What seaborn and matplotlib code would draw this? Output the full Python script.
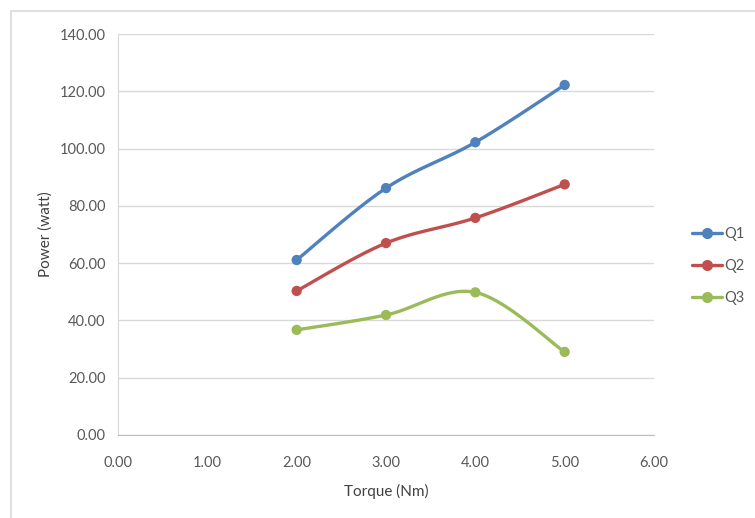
"""
Power vs torque for three flow rates (Excel-style smoothed line chart).
"""

import matplotlib.pyplot as plt
import numpy as np
import pandas as pd
import seaborn as sns
from matplotlib.lines import Line2D
from matplotlib.patches import Rectangle

TORQUE = [2.0, 3.0, 4.0, 5.0]
Q1 = [61.1, 86.2, 102.2, 122.2]
Q2 = [50.3, 67.0, 75.8, 87.5]
Q3 = [36.7, 41.9, 49.8, 29.0]
SERIES = {"Q1": Q1, "Q2": Q2, "Q3": Q3}
COLORS = {"Q1": "#4F81BD", "Q2": "#C0504D", "Q3": "#9BBB59"}

TEXT_COLOR = "#595959"
GRID_COLOR = "#D9D9D9"


def smooth_curve(x, y, steps=40):
    """Catmull-Rom path through the points, like Excel's smoothed line."""
    x = np.asarray(x, dtype=float)
    y = np.asarray(y, dtype=float)
    px = np.concatenate([[x[0]], x, [x[-1]]])
    py = np.concatenate([[y[0]], y, [y[-1]]])
    xs, ys = [], []
    t = np.linspace(0, 1, steps)
    for i in range(1, len(px) - 2):
        p0, p1, p2, p3 = (np.array([px[j], py[j]]) for j in range(i - 1, i + 3))
        c1 = p1 + (p2 - p0) / 6
        c2 = p2 - (p3 - p1) / 6
        b = (
            ((1 - t) ** 3)[:, None] * p1
            + (3 * (1 - t) ** 2 * t)[:, None] * c1
            + (3 * (1 - t) * t**2)[:, None] * c2
            + (t**3)[:, None] * p2
        )
        xs.extend(b[:, 0])
        ys.extend(b[:, 1])
    return np.array(xs), np.array(ys)


def main():
    sns.set_style("white")
    plt.rcParams["font.family"] = ["Lato", "DejaVu Sans"]

    fig = plt.figure(figsize=(7.55, 5.18), dpi=100)
    ax = fig.add_axes([118 / 755, 1 - 435 / 518, 536 / 755, 401 / 518])

    # chart area border (Excel frame, cut off at right and bottom)
    fig.patches.append(
        Rectangle(
            (11 / 755, -0.1), 1.2, 1 - 11 / 518 + 0.1,
            transform=fig.transFigure, fill=False,
            edgecolor=GRID_COLOR, linewidth=1.2,
        )
    )

    points = pd.DataFrame(
        [(x, v, name) for name, vals in SERIES.items() for x, v in zip(TORQUE, vals)],
        columns=["torque", "power", "series"],
    )
    curves = []
    for name, vals in SERIES.items():
        sx, sy = smooth_curve(TORQUE, vals)
        curves.append(pd.DataFrame({"torque": sx, "power": sy, "series": name}))
    curves = pd.concat(curves, ignore_index=True)

    sns.lineplot(
        data=curves, x="torque", y="power", hue="series", palette=COLORS,
        sort=False, estimator=None, linewidth=2.4, legend=False, ax=ax, zorder=3,
    )
    sns.scatterplot(
        data=points, x="torque", y="power", hue="series", palette=COLORS,
        s=55, linewidth=0, legend=False, ax=ax, zorder=4,
    )

    ax.set_xlim(0, 6)
    ax.set_ylim(0, 140)
    ax.set_xticks(np.arange(0, 7, 1))
    ax.set_yticks(np.arange(0, 141, 20))
    ax.set_xticklabels([f"{v:.2f}" for v in np.arange(0, 7, 1)])
    ax.set_yticklabels([f"{v:.2f}" for v in np.arange(0, 141, 20)])
    ax.tick_params(colors=TEXT_COLOR, labelsize=10.5, length=0)
    ax.tick_params(axis="x", pad=15)
    ax.tick_params(axis="y", pad=9)
    ax.yaxis.grid(True, color=GRID_COLOR, linewidth=1)
    ax.set_axisbelow(True)
    for side in ["top", "right"]:
        ax.spines[side].set_visible(False)
    ax.spines["left"].set_color(GRID_COLOR)
    ax.spines["bottom"].set_color("#BFBFBF")

    ax.set_xlabel("Torque (Nm)", fontsize=11, color="#404040", labelpad=10)
    ax.set_ylabel("Power (watt)", fontsize=11, color="#404040", labelpad=5)

    handles = [
        Line2D([0], [0], color=COLORS[n], linewidth=2.4, marker="o", markersize=7)
        for n in SERIES
    ]
    fig.legend(
        handles, list(SERIES), loc="center left", bbox_to_anchor=(688 / 755, 1 - 266 / 518),
        frameon=False, fontsize=10.5, labelcolor=TEXT_COLOR, handlelength=2.0,
        handletextpad=0.2, labelspacing=1.25, borderaxespad=0, borderpad=0.3,
    )

    fig.savefig("out.png", dpi=100)
    plt.close(fig)


if __name__ == "__main__":
    main()
